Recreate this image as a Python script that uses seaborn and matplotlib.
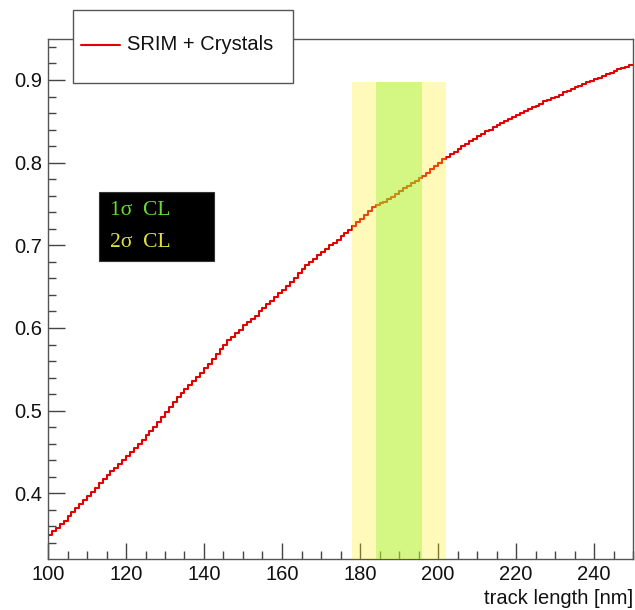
import matplotlib
matplotlib.use("Agg")
import matplotlib.pyplot as plt
from matplotlib.patches import Rectangle
from matplotlib.lines import Line2D
from matplotlib.ticker import MultipleLocator
import numpy as np
import pandas as pd
import seaborn as sns

# ---- data ----
bin_low_edges = list(range(100, 250))  # 1 nm bins, 100..249
fraction = [
    0.349, 0.354, 0.358, 0.363, 0.367, 0.372, 0.377, 0.382, 0.387, 0.392,
    0.397, 0.402, 0.407, 0.412, 0.417, 0.422, 0.427, 0.431, 0.436, 0.440,
    0.445, 0.450, 0.455, 0.460, 0.465, 0.470, 0.475, 0.480, 0.486, 0.492,
    0.498, 0.504, 0.510, 0.516, 0.521, 0.526, 0.531, 0.536, 0.541, 0.546,
    0.551, 0.557, 0.563, 0.568, 0.574, 0.579, 0.585, 0.589, 0.594, 0.598,
    0.603, 0.607, 0.611, 0.615, 0.620, 0.624, 0.629, 0.633, 0.637, 0.642,
    0.646, 0.651, 0.656, 0.661, 0.666, 0.671, 0.676, 0.680, 0.684, 0.688,
    0.692, 0.696, 0.700, 0.703, 0.707, 0.711, 0.715, 0.719, 0.723, 0.728,
    0.732, 0.737, 0.741, 0.746, 0.749, 0.751, 0.753, 0.756, 0.759, 0.762,
    0.766, 0.769, 0.772, 0.775, 0.778, 0.781, 0.784, 0.788, 0.792, 0.796,
    0.800, 0.804, 0.807, 0.810, 0.813, 0.816, 0.820, 0.823, 0.826, 0.829,
    0.832, 0.835, 0.838, 0.840, 0.843, 0.845, 0.848, 0.850, 0.853, 0.855,
    0.858, 0.860, 0.862, 0.865, 0.867, 0.869, 0.871, 0.874, 0.876, 0.878,
    0.880, 0.882, 0.885, 0.887, 0.889, 0.891, 0.893, 0.895, 0.897, 0.899,
    0.901, 0.903, 0.905, 0.907, 0.909, 0.911, 0.913, 0.914, 0.916, 0.918,
]
bin_width = 1
series_label = "SRIM + Crystals"
band_2sigma = (178, 202)
band_1sigma = (184, 196)
band_top = 0.8975
x_range = (100, 250)
y_range = (0.3205, 0.9496)
x_major = [100, 120, 140, 160, 180, 200, 220, 240]
y_major = [0.4, 0.5, 0.6, 0.7, 0.8, 0.9]
x_title = "track length [nm]"
cl_labels = ["1σ  CL", "2σ  CL"]

# ---- style ----
sns.set_style("white")
plt.rcParams["font.family"] = ["Liberation Sans", "DejaVu Sans"]

W, H = 635, 610
fig = plt.figure(figsize=(W / 100, H / 100), dpi=100)
ax = fig.add_axes([48 / W, 1 - 559 / H, (633 - 48) / W, (559 - 39) / H])

edges = bin_low_edges + [bin_low_edges[-1] + bin_width]
df = pd.DataFrame({"x": edges, "y": fraction + [fraction[-1]]})
sns.lineplot(data=df, x="x", y="y", drawstyle="steps-post", color="#e30000",
             linewidth=1.5, estimator=None, ax=ax, legend=False)

# confidence bands (drawn on top, translucent)
ax.add_patch(Rectangle((band_2sigma[0], y_range[0]), band_2sigma[1] - band_2sigma[0],
                       band_top - y_range[0], facecolor=(1.0, 0.94, 0.1), alpha=0.3,
                       edgecolor="none", zorder=3))
ax.add_patch(Rectangle((band_1sigma[0], y_range[0]), band_1sigma[1] - band_1sigma[0],
                       band_top - y_range[0], facecolor=(0.58, 0.94, 0.2), alpha=0.4,
                       edgecolor="none", zorder=4))

ax.set_xlim(*x_range)
ax.set_ylim(*y_range)
ax.set_xticks(x_major)
ax.set_yticks(y_major)
ax.set_xticklabels([str(v) for v in x_major])
ax.set_yticklabels([f"{v:.1f}" for v in y_major])
ax.xaxis.set_minor_locator(MultipleLocator(5))
ax.yaxis.set_minor_locator(MultipleLocator(0.02))
ax.tick_params(axis="both", which="both", direction="in", colors="#444444",
               labelcolor="#111111", labelsize=14.5, bottom=True, left=True,
               top=False, right=False)
ax.tick_params(axis="x", which="major", length=11.5, width=1, pad=4)
ax.tick_params(axis="x", which="minor", length=5.5, width=1)
ax.tick_params(axis="y", which="major", length=12, width=1, pad=4)
ax.tick_params(axis="y", which="minor", length=5.5, width=1)
ax.set_xlabel("")
ax.set_ylabel("")
for s in ax.spines.values():
    s.set_color("#555555")
    s.set_linewidth(1)
    s.set_visible(True)

fig.text(633 / W, 1 - 598 / H, x_title, ha="right", va="center", fontsize=14.5,
         color="#111111")

# legend box
fig.patches.append(Rectangle((73 / W, 1 - 83 / H), (293 - 73) / W, (83 - 10) / H,
                             transform=fig.transFigure, facecolor="white",
                             edgecolor="#555555", linewidth=1, zorder=5))
fig.lines.append(Line2D([81 / W, 120 / W], [1 - 45 / H, 1 - 45 / H],
                        transform=fig.transFigure, color="#e30000", linewidth=1.5,
                        zorder=6))
fig.text(127 / W, 1 - 45 / H, series_label, ha="left", va="center", fontsize=14.5,
         color="#111111", zorder=7)

# CL box
fig.patches.append(Rectangle((99 / W, 1 - 261 / H), (214 - 99) / W, (261 - 192) / H,
                             transform=fig.transFigure, facecolor="black",
                             edgecolor="#333333", linewidth=0.8, zorder=5))
fig.text(110 / W, 1 - 211 / H, cl_labels[0], ha="left", va="center", fontsize=15.5,
         color="#66dd33", family=["Liberation Serif", "DejaVu Serif"], zorder=7)
fig.text(110 / W, 1 - 243 / H, cl_labels[1], ha="left", va="center", fontsize=15.5,
         color="#e0e040", family=["Liberation Serif", "DejaVu Serif"], zorder=7)

fig.savefig("out.png", dpi=100, facecolor="white")
